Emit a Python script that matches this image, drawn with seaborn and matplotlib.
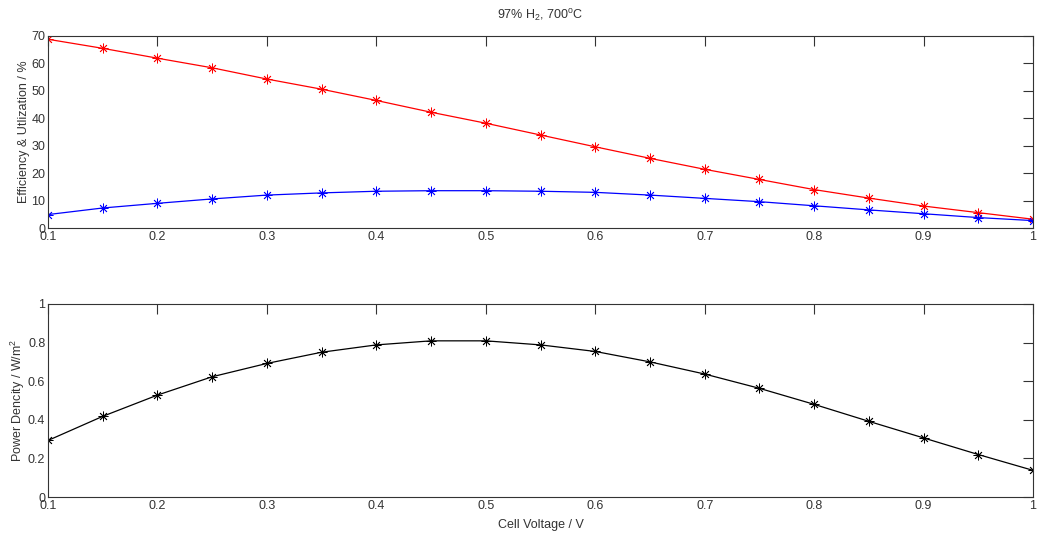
import numpy as np
import pandas as pd
import matplotlib
matplotlib.use("Agg")
import matplotlib.pyplot as plt
import seaborn as sns

voltage = [0.1, 0.15, 0.2, 0.25, 0.3, 0.35, 0.4, 0.45, 0.5, 0.55,
           0.6, 0.65, 0.7, 0.75, 0.8, 0.85, 0.9, 0.95, 1.0]
utilization = [68.8, 65.5, 61.9, 58.4, 54.3, 50.6, 46.5, 42.2, 38.2, 33.9,
               29.6, 25.4, 21.4, 17.7, 14.0, 10.9, 8.0, 5.6, 3.2]
efficiency = [4.9, 7.3, 9.0, 10.6, 12.0, 12.8, 13.4, 13.6, 13.6, 13.4,
              13.0, 12.0, 10.8, 9.6, 8.1, 6.6, 5.2, 3.8, 2.7]
power_density = [0.293, 0.418, 0.528, 0.623, 0.692, 0.750, 0.788, 0.809, 0.809, 0.788,
                 0.754, 0.700, 0.637, 0.563, 0.480, 0.392, 0.306, 0.220, 0.138]

x_ticks = [0.1, 0.2, 0.3, 0.4, 0.5, 0.6, 0.7, 0.8, 0.9, 1.0]
x_ticklabels = ["0.1", "0.2", "0.3", "0.4", "0.5", "0.6", "0.7", "0.8", "0.9", "1"]
top_yticks = [0, 10, 20, 30, 40, 50, 60, 70]
bottom_yticks = [0, 0.2, 0.4, 0.6, 0.8, 1.0]
bottom_yticklabels = ["0", "0.2", "0.4", "0.6", "0.8", "1"]

sns.set_style("white")
plt.rcParams['font.family'] = ['Liberation Sans', 'DejaVu Sans']
plt.rcParams['mathtext.fontset'] = 'custom'
plt.rcParams['mathtext.rm'] = 'Liberation Sans'
plt.rcParams['mathtext.it'] = 'Liberation Sans'
plt.rcParams['font.size'] = 9

fig = plt.figure(figsize=(10.4, 5.38), dpi=100)
ax1 = fig.add_axes([0.0462, 0.5762, 0.9471, 0.3569])
ax2 = fig.add_axes([0.0462, 0.0762, 0.9471, 0.3588])

asterisk = (8, 2, 0)
mk = dict(marker=asterisk, markersize=7, markeredgewidth=0.6, linewidth=0.9)

sns.lineplot(x=voltage, y=utilization, ax=ax1, color='#ff0000',
             markeredgecolor='#ff0000', **mk)
sns.lineplot(x=voltage, y=efficiency, ax=ax1, color='#0000ff',
             markeredgecolor='#0000ff', **mk)
sns.lineplot(x=voltage, y=power_density, ax=ax2, color='black',
             markeredgecolor='black', **mk)

for ax in (ax1, ax2):
    ax.set_xlim(0.1, 1.0)
    ax.set_xticks(x_ticks)
    ax.set_xticklabels(x_ticklabels)
    ax.tick_params(direction='in', length=7, width=0.8, top=True, right=True,
                   labelsize=9, colors='#333333', pad=2)
    for s in ax.spines.values():
        s.set_color('#333333')
        s.set_linewidth(0.8)
        s.set_visible(True)

ax1.set_ylim(0, 70)
ax1.set_yticks(top_yticks)
ax1.set_ylabel("Efficiency & Utlization / %", fontsize=9, color='#333333', labelpad=1)
ax1.set_title("97% H$_2$, 700$^\\mathrm{o}$C", fontsize=9, color='#333333', pad=12)

ax2.set_ylim(0, 1)
ax2.set_yticks(bottom_yticks)
ax2.set_yticklabels(bottom_yticklabels)
ax2.set_ylabel("Power Dencity / W/m$^2$", fontsize=9, color='#333333', labelpad=1)
ax2.set_xlabel("Cell Voltage / V", fontsize=9, color='#333333', labelpad=5)

fig.savefig("out.png", dpi=100, facecolor='white')
